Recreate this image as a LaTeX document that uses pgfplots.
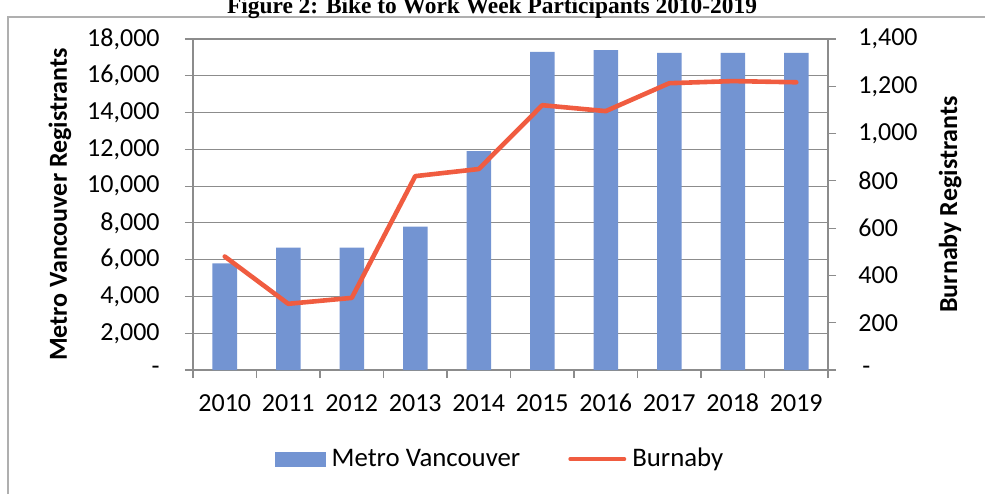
\documentclass[border=0pt]{standalone}
\usepackage{fontspec}
\setmainfont{Carlito}
\newfontfamily\titlefont{Liberation Serif}
\usepackage{pgfplots}
\pgfplotsset{compat=1.18}

\definecolor{barblue}{RGB}{115,148,210}
\definecolor{lineorange}{RGB}{240,92,64}
\definecolor{gridgray}{RGB}{140,140,140}
\definecolor{framegray}{RGB}{175,175,175}

\newcommand{\tickfont}{\fontsize{13}{15}\selectfont}
\newcommand{\legfont}{\fontsize{13.4}{15}\selectfont}
\newcommand{\labfont}{\bfseries\fontsize{13}{15}\selectfont}

\begin{document}
\begin{tikzpicture}
% Metro Vancouver bars, left axis
\begin{axis}[
    scale only axis, width=317.5pt, height=165.5pt,
    xmin=-0.5, xmax=9.5, ymin=0, ymax=18000,
    scaled y ticks=false,
    xtick={0,...,9},
    xticklabels={2010,2011,2012,2013,2014,2015,2016,2017,2018,2019},
    minor xtick={-0.5,0.5,...,9.5},
    major x tick style={draw=none},
    ytick={0,2000,...,18000},
    yticklabels={{-\hspace{4pt}},{2,000},{4,000},{6,000},{8,000},{10,000},{12,000},{14,000},{16,000},{18,000}},
    xtick pos=bottom, ytick pos=left,
    tick align=outside, major tick length=4pt, minor tick length=4pt,
    axis line style={gridgray, line width=0.6pt},
    tick style={gridgray, line width=0.6pt},
    ymajorgrids, major grid style={gridgray, line width=0.6pt},
    xticklabel style={font=\tickfont, anchor=north, inner sep=0pt,
        text height=9pt, text depth=0pt, yshift=-7.7pt},
    yticklabel style={font=\tickfont, anchor=east, inner sep=0pt, xshift=-12.5pt},
    every axis y label/.style={at={(axis description cs:-0.2094,0.5)}, rotate=90, anchor=center, font=\labfont},
    ylabel={Metro Vancouver Registrants},
]
\addplot[ybar, bar width=12.25pt, fill=barblue, draw=none] coordinates {
    (0,5800) (1,6650) (2,6650) (3,7800) (4,11900)
    (5,17300) (6,17400) (7,17250) (8,17250) (9,17250)
};
\end{axis}
% Burnaby line, right axis
\begin{axis}[
    scale only axis, width=317.5pt, height=165.5pt,
    xmin=-0.5, xmax=9.5, ymin=0, ymax=1400,
    axis x line=none, axis y line*=right,
    ytick={0,200,...,1400},
    yticklabels={{\hspace{2pt}-},{200},{400},{600},{800},{1,000},{1,200},{1,400}},
    tick align=outside, major tick length=4pt,
    axis line style={gridgray, line width=0.6pt},
    tick style={gridgray, line width=0.6pt},
    yticklabel style={font=\tickfont, anchor=west, inner sep=0pt, xshift=11pt},
    every axis y label/.style={at={(axis description cs:1.1925,0.5)}, rotate=90, anchor=center, font=\labfont},
    ylabel={Burnaby Registrants},
    legend style={at={(0.482,-0.272)}, anchor=center, draw=none, fill=none,
        font=\legfont, inner sep=0pt, column sep=3pt,
        nodes={inner sep=0pt, text height=9pt, text depth=3pt},
        /tikz/every even column/.append style={column sep=24pt}},
    legend columns=2,
]
\addlegendimage{legend image code/.code={\fill[barblue] (0pt,-3pt) rectangle (25pt,4pt);}}
\addlegendentry{Metro Vancouver}
\addplot[lineorange, line width=2.3pt, line join=round, line cap=round,
    legend image code/.code={\draw[lineorange, line width=2pt] (0pt,0.5pt) -- (27pt,0.5pt);}]
    coordinates {
    (0,480) (1,280) (2,305) (3,820) (4,850)
    (5,1120) (6,1095) (7,1213) (8,1222) (9,1217)
};
\addlegendentry{Burnaby}
\end{axis}
% outer frame and title
\draw[framegray, line width=0.6pt] (-92.5pt,-62pt) -- (-92.5pt,176.5pt) -- (396pt,176.5pt);
\node[font=\titlefont\bfseries\fontsize{11.7}{13}\selectfont, anchor=base] at (149.5pt,178.3pt)
    {Figure 2: Bike to Work Week Participants 2010-2019};
\pgfresetboundingbox
\path[use as bounding box] (-96.5pt,-62pt) rectangle (396pt,185pt);
\end{tikzpicture}
\end{document}
